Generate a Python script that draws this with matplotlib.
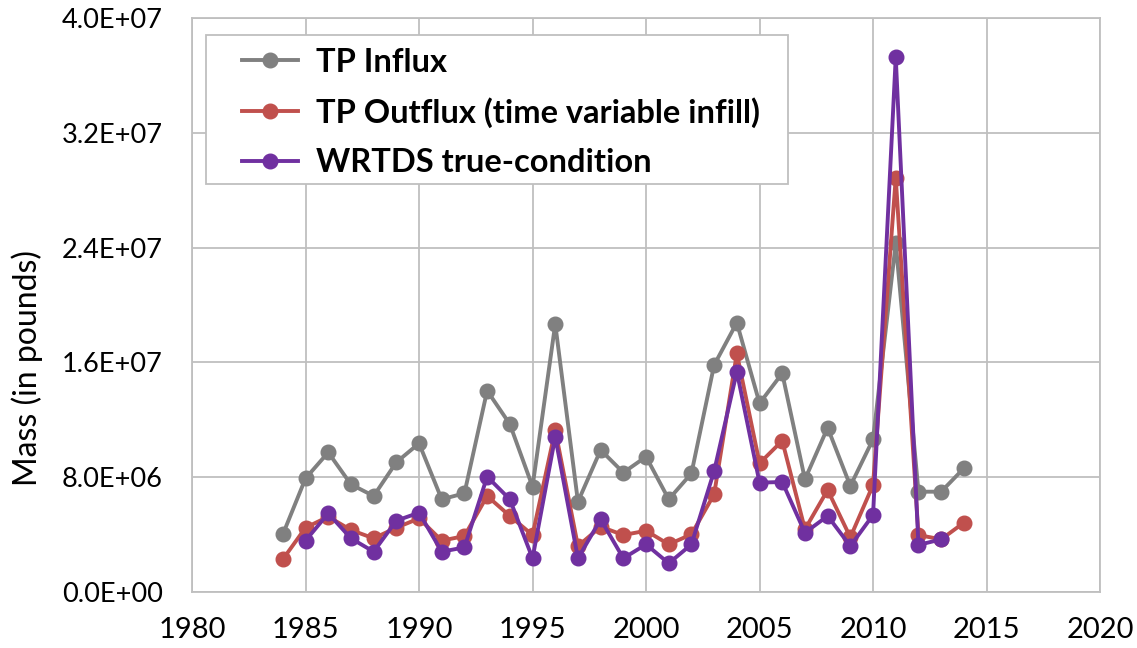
import matplotlib
matplotlib.use("Agg")
import matplotlib.pyplot as plt
from matplotlib.ticker import FuncFormatter, MultipleLocator
from matplotlib.patches import Rectangle

years_influx = list(range(1984, 2015))
tp_influx = [4.02e6, 7.92e6, 9.73e6, 7.5e6, 6.69e6, 9.04e6, 10.36e6, 6.46e6, 6.88e6, 14.03e6,
             11.7e6, 7.34e6, 18.68e6, 6.29e6, 9.9e6, 8.32e6, 9.43e6, 6.46e6, 8.27e6, 15.82e6,
             18.77e6, 13.15e6, 15.24e6, 7.85e6, 11.45e6, 7.39e6, 10.64e6, 24.3e6, 6.99e6, 6.99e6,
             8.62e6]

years_outflux = list(range(1984, 2015))
tp_outflux = [2.28e6, 4.48e6, 5.25e6, 4.32e6, 3.74e6, 4.48e6, 5.13e6, 3.58e6, 3.9e6, 6.69e6,
              5.3e6, 3.97e6, 11.29e6, 3.2e6, 4.55e6, 3.97e6, 4.27e6, 3.32e6, 4.02e6, 6.81e6,
              16.63e6, 8.97e6, 10.54e6, 4.37e6, 7.11e6, 3.81e6, 7.46e6, 28.87e6, 3.97e6, 3.67e6,
              4.83e6]

years_wrtds = list(range(1985, 2014))
wrtds = [3.58e6, 5.48e6, 3.74e6, 2.81e6, 4.97e6, 5.53e6, 2.81e6, 3.11e6, 8.04e6,
         6.46e6, 2.35e6, 10.82e6, 2.35e6, 5.06e6, 2.35e6, 3.32e6, 2.0e6, 3.32e6, 8.43e6,
         15.35e6, 7.62e6, 7.67e6, 4.13e6, 5.3e6, 3.2e6, 5.37e6, 37.26e6, 3.28e6, 3.67e6]

labels = ["TP Influx", "TP Outflux (time variable infill)", "WRTDS true-condition"]
colors = ["#808080", "#C0504D", "#7030A0"]

plt.rcParams['font.family'] = ['Lato', 'DejaVu Sans']

fig = plt.figure(figsize=(11.37, 6.48), dpi=100)
ax = fig.add_axes([0.1689, 0.0864, 0.7986, 0.8858])

lw = 2.8
ms = 10.5
ax.plot(years_influx, tp_influx, color=colors[0], lw=lw, marker='o', ms=ms, label=labels[0], zorder=3)
ax.plot(years_outflux, tp_outflux, color=colors[1], lw=lw, marker='o', ms=ms, label=labels[1], zorder=4)
ax.plot(years_wrtds, wrtds, color=colors[2], lw=lw, marker='o', ms=ms, label=labels[2], zorder=5)

ax.set_xlim(1980, 2020)
ax.set_ylim(0, 4.0e7)
ax.xaxis.set_major_locator(MultipleLocator(5))
ax.yaxis.set_major_locator(MultipleLocator(8e6))
ax.yaxis.set_major_formatter(FuncFormatter(lambda v, p: "{:.1E}".format(v)))
ax.grid(True, color="#BFBFBF", lw=1.3)
ax.set_axisbelow(True)
for s in ax.spines.values():
    s.set_color("#BFBFBF")
    s.set_linewidth(1.3)
ax.tick_params(length=0, colors="black")
ax.tick_params(axis='y', pad=21, labelsize=19.5)
ax.tick_params(axis='x', pad=18, labelsize=21)
ax.set_ylabel("Mass (in pounds)", fontsize=23)
ax.yaxis.set_label_coords(-0.164, 0.39)

# legend frame
ax.add_patch(Rectangle((0.0154, 0.7108), 0.641, 0.2596, transform=ax.transAxes,
                       facecolor="white", edgecolor="#BFBFBF", lw=1.3, zorder=6))

leg = ax.legend(loc='upper left', bbox_to_anchor=(0.0551, 0.948), borderaxespad=0,
                borderpad=0, frameon=False,
                prop={'weight': 'bold', 'size': 23.5}, handlelength=1.7,
                labelspacing=0.62, handletextpad=0.55)
leg.set_zorder(7)

fig.savefig("out.png", dpi=100)
